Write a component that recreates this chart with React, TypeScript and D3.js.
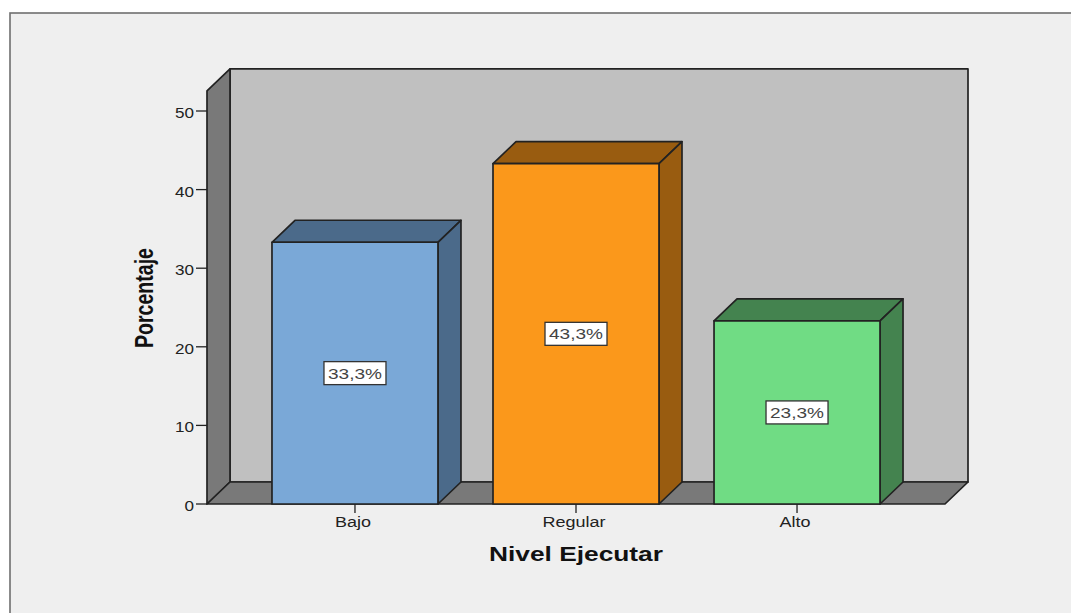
import React from "react";
import * as d3 from "d3";

const categories = ["Bajo", "Regular", "Alto"];
const percentages = [33.3, 43.3, 23.3];
const valueLabels = ["33,3%", "43,3%", "23,3%"];
const frontColors = ["#7aa8d7", "#fb981b", "#70dc84"];
const topColors = ["#4b6a8a", "#995c10", "#44834f"];
const yTicks = [0, 10, 20, 30, 40, 50];
const yAxisMax = 52.55;

const WIDTH = 1071;
const HEIGHT = 613;
const DEPTH_X = 23;
const DEPTH_Y = -22;
const INK = "#222222";
const FONT = "'Liberation Sans', Arial, sans-serif";

const y = d3.scaleLinear().domain([0, 50]).range([504, 111]);
const x = d3
  .scaleBand<string>()
  .domain(categories)
  .range([207, 945])
  .paddingInner(0.249)
  .paddingOuter(0.294);

const poly = (points: [number, number][]) => {
  const path = d3.path();
  points.forEach(([px, py], i) => (i ? path.lineTo(px, py) : path.moveTo(px, py)));
  path.closePath();
  return path.toString();
};

export default function App() {
  const [left, right] = x.range();
  const bottom = y(0);
  const top = y(yAxisMax);
  const bw = x.bandwidth();

  return (
    <svg
      width={WIDTH}
      height={HEIGHT}
      style={{ position: "absolute", left: 0, top: 0, display: "block", background: "#ffffff" }}
    >
      {/* Outer chart frame, open past the right and bottom edges */}
      <rect x={10} y={13} width={1075} height={620} fill="#efefef" stroke="#6f6f6f" strokeWidth={1.6} />

      {/* Box walls and floor */}
      <g stroke={INK} strokeWidth={1.7} strokeLinejoin="round">
        <path
          d={poly([[left + DEPTH_X, top + DEPTH_Y], [right + DEPTH_X, top + DEPTH_Y], [right + DEPTH_X, bottom + DEPTH_Y], [left + DEPTH_X, bottom + DEPTH_Y]])}
          fill="#c0c0c0"
        />
        <path
          d={poly([[left, top], [left + DEPTH_X, top + DEPTH_Y], [left + DEPTH_X, bottom + DEPTH_Y], [left, bottom]])}
          fill="#797979"
        />
        <path
          d={poly([[left, bottom], [left + DEPTH_X, bottom + DEPTH_Y], [right + DEPTH_X, bottom + DEPTH_Y], [right, bottom]])}
          fill="#797979"
        />
      </g>

      {/* Y axis */}
      <g fontFamily={FONT} fontSize={15} fill="#222">
        {yTicks.map((t) => (
          <g key={t}>
            <line x1={196} x2={left} y1={y(t)} y2={y(t)} stroke={INK} strokeWidth={1.3} />
            <text x={194} y={y(t) + 7} textAnchor="end" textLength={(19 * String(t).length) / 2} lengthAdjust="spacingAndGlyphs">
              {t}
            </text>
          </g>
        ))}
      </g>

      {/* Three-dimensional bars */}
      {categories.map((c, i) => {
        const x0 = x(c)!;
        const x1 = x0 + bw;
        const yv = y(percentages[i]);
        return (
          <g key={c} stroke={INK} strokeWidth={1.7} strokeLinejoin="round">
            <path d={poly([[x0, yv], [x0 + DEPTH_X, yv + DEPTH_Y], [x1 + DEPTH_X, yv + DEPTH_Y], [x1, yv]])} fill={topColors[i]} />
            <path d={poly([[x1, yv], [x1 + DEPTH_X, yv + DEPTH_Y], [x1 + DEPTH_X, bottom + DEPTH_Y], [x1, bottom]])} fill={topColors[i]} />
            <rect x={x0} y={yv} width={bw} height={bottom - yv} fill={frontColors[i]} />
          </g>
        );
      })}

      {/* Value labels centred on each bar front */}
      {categories.map((c, i) => {
        const cx = x(c)! + bw / 2;
        const cy = (y(percentages[i]) + bottom) / 2;
        return (
          <g key={c}>
            <rect x={cx - 31} y={cy - 11.5} width={62} height={23} fill="#ffffff" stroke="#333333" strokeWidth={1.3} />
            <text x={cx} y={cy + 5.5} textAnchor="middle" fontFamily={FONT} fontSize={15} fill="#444444" textLength={54} lengthAdjust="spacingAndGlyphs">
              {valueLabels[i]}
            </text>
          </g>
        );
      })}

      {/* Category ticks and labels */}
      {categories.map((c) => {
        const cx = x(c)! + bw / 2;
        return (
          <g key={c}>
            <line x1={cx} x2={cx} y1={bottom} y2={bottom + 9} stroke={INK} strokeWidth={1.3} />
            <text
              transform={`translate(${cx - 2},527) scale(1.2,1)`}
              textAnchor="middle"
              fontFamily={FONT}
              fontSize={15}
              fill="#222"
            >
              {c}
            </text>
          </g>
        );
      })}

      {/* Axis titles */}
      <text
        x={576}
        y={561}
        textAnchor="middle"
        fontFamily={FONT}
        fontWeight={700}
        fontSize={21}
        fill="#111"
        textLength={174}
        lengthAdjust="spacingAndGlyphs"
      >
        Nivel Ejecutar
      </text>
      <text
        transform="translate(153,298) rotate(-90)"
        textAnchor="middle"
        fontFamily={FONT}
        fontWeight={700}
        fontSize={25}
        fill="#111"
        textLength={100}
        lengthAdjust="spacingAndGlyphs"
      >
        Porcentaje
      </text>
    </svg>
  );
}
